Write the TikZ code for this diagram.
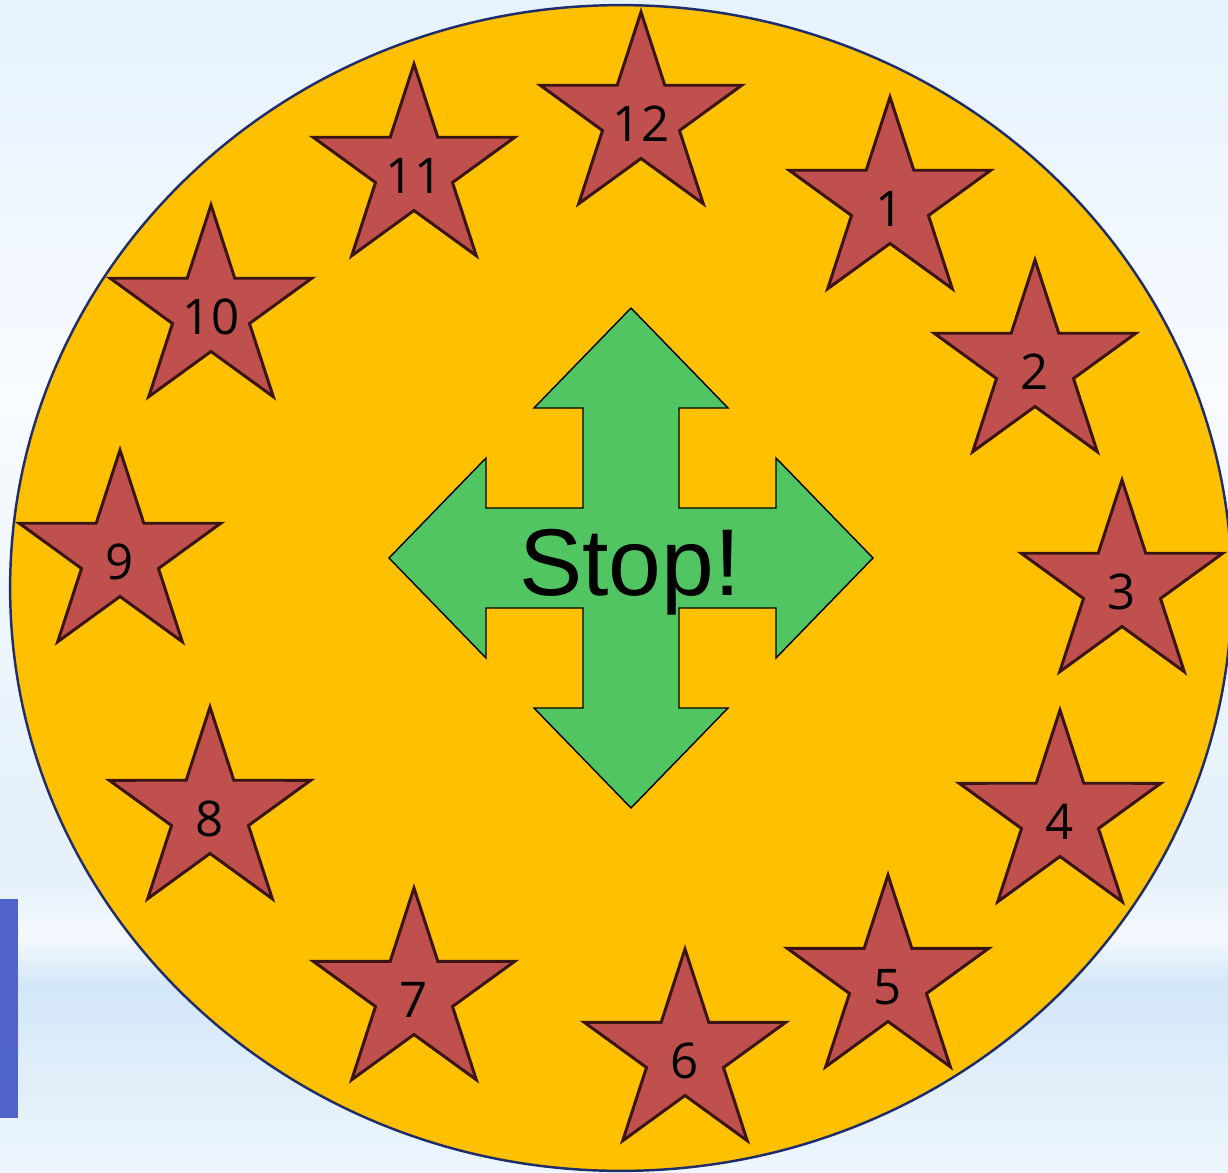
\documentclass[tikz,border=0pt]{standalone}
\usepackage{fontspec}
\usepackage{tikz}
\usetikzlibrary{shapes.geometric}
\setmainfont{Liberation Sans}
\newfontfamily\numfont{Open Sans}
\usepackage{xcolor}
\definecolor{skytop}{HTML}{E6F2FD}
\definecolor{skymid}{HTML}{F8FBFF}
\definecolor{skylow}{HTML}{E6F1FB}
\definecolor{skyband}{HTML}{F4F9FE}
\definecolor{skydeep}{HTML}{D3E7F8}
\definecolor{skyfoot}{HTML}{EEF6FD}
\definecolor{plate}{HTML}{FFC000}
\definecolor{rim}{HTML}{1F2D6B}
\definecolor{starfill}{HTML}{C0504D}
\definecolor{starline}{HTML}{3B1414}
\definecolor{go}{HTML}{50C562}
\definecolor{tab}{HTML}{4F63C8}
\pgfdeclareverticalshading{skyshade}{100bp}{color(0bp)=(skyfoot); color(25bp)=(skyfoot); color(33bp)=(skydeep); color(35.1bp)=(skyband); color(37.5bp)=(skylow); color(41bp)=(skylow); color(58bp)=(skymid); color(75bp)=(skytop); color(100bp)=(skytop)}
\tikzset{
  every node/.style={text=black},
  platebox/.style={ellipse,fill=plate,draw=rim,line width=1.4pt,inner sep=0pt,minimum width=24.44cm,minimum height=23.32cm},
  starbox/.style={star,star points=5,star point ratio=2.618,minimum size=4.24cm,inner sep=0pt,text height=0.94cm,text depth=0pt,fill=starfill,draw=starline,line width=1.7pt,font=\numfont\fontsize{28}{30}\selectfont},
  crossarr/.style={fill=go,draw=black,line width=0.8pt,line join=miter},
  stoplabel/.style={font=\fontsize{54}{60}\selectfont,inner sep=0pt},
}

\begin{document}
\begin{tikzpicture}[x=0.02cm,y=-0.02cm]
\useasboundingbox (0,0) rectangle (1228,1173);
\shade[shading=skyshade] (0,0) rectangle (1228,1173);
\fill[tab] (0,899) rectangle (18,1118);
\node[platebox] (disc) at (621,588) {};
\node[starbox] (s1) at (890,203) {1};
\node[starbox] (s2) at (1035,366) {2};
\node[starbox] (s3) at (1122,586) {3};
\node[starbox] (s4) at (1060,816) {4};
\node[starbox] (s5) at (888,981) {5};
\node[starbox] (s6) at (685,1055) {6};
\node[starbox] (s7) at (414,994) {7};
\node[starbox] (s8) at (210,813) {8};
\node[starbox] (s9) at (120,556) {9};
\node[starbox] (s10) at (211,311) {10};
\node[starbox] (s11) at (414,170) {11};
\node[starbox] (s12) at (641,118) {12};
\draw[crossarr,shift={(631,558)}] (0,-250) -- (97,-150) -- (48,-150) -- (48,-50) -- (145,-50) -- (145,-100) -- (242,0)
  -- (145,100) -- (145,50) -- (48,50) -- (48,150) -- (97,150) -- (0,250) -- (-97,150) -- (-48,150) -- (-48,50)
  -- (-145,50) -- (-145,100) -- (-242,0) -- (-145,-100) -- (-145,-50) -- (-48,-50) -- (-48,-150) -- (-97,-150) -- cycle;
\node[stoplabel,anchor=base] (stop) at (630,595) {Stop!};
\end{tikzpicture}
\end{document}
